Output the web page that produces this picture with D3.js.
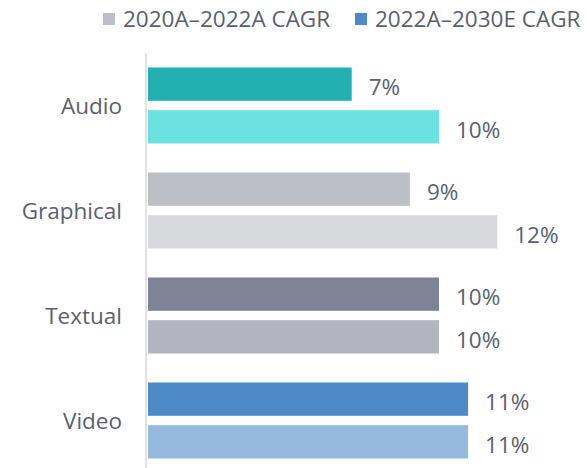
<!DOCTYPE html>
<html>
    <head>
        <title>CAGR by format</title>
        <meta charset="UTF-8">
        <script type="text/javascript" src="https://cdn.jsdelivr.net/npm/d3@7"></script>
        <style type="text/css">
            body { margin: 0; background: #ffffff; }
            text { font-family: "Open Sans", "Noto Sans", sans-serif; fill: #5a5f6e; }
        </style>
    </head>
    <body>
        <div id="chart"></div>

        <script type="text/javascript">

            var svgW = 587;
            var svgH = 468;

            // categories top to bottom
            var categories = ["Audio", "Graphical", "Textual", "Video"];
            // values in percent
            var cagrPast = [7, 9, 10, 11];     // 2020A-2022A
            var cagrFuture = [10, 12, 10, 11]; // 2022A-2030E
            var seriesNames = ["2020A\u20132022A CAGR", "2022A\u20132030E CAGR"];

            // each category gets its own pair of colours
            var pastColors = ["#22b0b0", "#bdbfc6", "#7e8496", "#4e8ac8"];
            var futureColors = ["#6ce2e0", "#d8d9dd", "#b2b5bf", "#96b9e0"];
            var legendColors = ["#bdbfc6", "#4e8ac8"];

            var rows = categories.map(function (c, i) {
                return {cat: c, vals: [
                    {k: 0, v: cagrPast[i], color: pastColors[i]},
                    {k: 1, v: cagrFuture[i], color: futureColors[i]}
                ]};
            });

            var svg = d3.select("#chart").append("svg")
                    .attr("width", svgW)
                    .attr("height", svgH);

            var x = d3.scaleLinear().domain([0, 10]).range([148, 439]);
            var y0 = d3.scaleBand().domain(categories).range([53, 473])
                    .paddingInner(0.276).paddingOuter(0.138);
            var y1 = d3.scaleBand().domain([0, 1]).range([0, y0.bandwidth()])
                    .paddingInner(0.22);

            //axis line only, no ticks
            svg.append("line")
                    .attr("x1", 146).attr("x2", 146)
                    .attr("y1", 53).attr("y2", svgH)
                    .attr("stroke", "#e1e2e7")
                    .attr("stroke-width", 2);

            var groups = svg.selectAll("g.cat")
                    .data(rows)
                    .enter()
                    .append("g")
                    .attr("class", "cat")
                    .attr("transform", function (d) {
                        return "translate(0," + y0(d.cat) + ")";
                    });

            groups.selectAll("rect")
                    .data(function (d) { return d.vals; })
                    .enter()
                    .append("rect")
                    .attr("x", x(0))
                    .attr("y", function (d) { return y1(d.k); })
                    .attr("width", function (d) { return x(d.v) - x(0); })
                    .attr("height", y1.bandwidth())
                    .attr("fill", function (d) { return d.color; });

            groups.selectAll("text.val")
                    .data(function (d) { return d.vals; })
                    .enter()
                    .append("text")
                    .attr("class", "val")
                    .attr("x", function (d) { return x(d.v) + 17; })
                    .attr("y", function (d) { return y1(d.k) + y1.bandwidth() / 2 + 3; })
                    .attr("dy", "0.36em")
                    .style("font-size", "22.5px")
                    .text(function (d) { return d.v + "%"; });

            groups.append("text")
                    .attr("x", 122)
                    .attr("y", y0.bandwidth() / 2)
                    .attr("dy", "0.36em")
                    .attr("text-anchor", "end")
                    .style("font-size", "22.5px")
                    .text(function (d) { return d.cat; });

            // legend
            var legendX = [103, 355];
            var legend = svg.selectAll("g.legend")
                    .data(seriesNames)
                    .enter()
                    .append("g")
                    .attr("class", "legend")
                    .attr("transform", function (d, i) {
                        return "translate(" + legendX[i] + ",0)";
                    });
            legend.append("rect")
                    .attr("x", 0).attr("y", 13)
                    .attr("width", 12).attr("height", 12)
                    .attr("fill", function (d, i) { return legendColors[i]; });
            legend.append("text")
                    .attr("x", 20)
                    .attr("y", 19)
                    .attr("dy", "0.36em")
                    .style("font-size", "22.5px")
                    .text(function (d) { return d; });
        </script>
    </body>
</html>
